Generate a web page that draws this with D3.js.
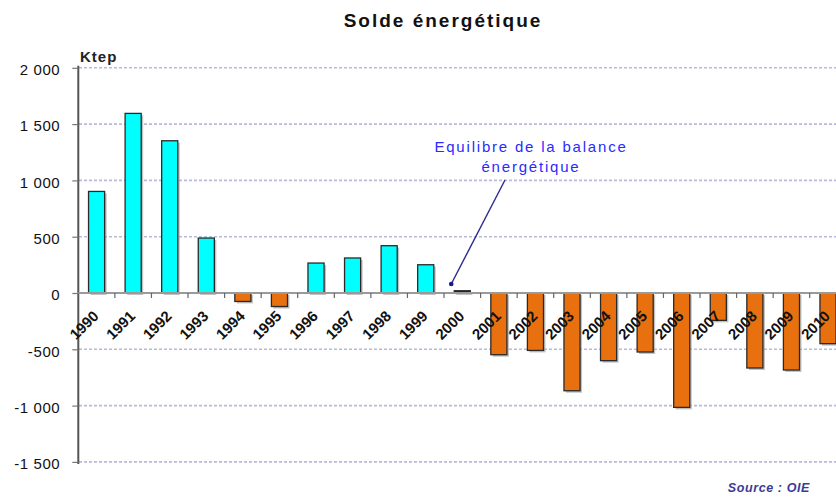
<!DOCTYPE html>
<html><head><meta charset="utf-8">
<script src="https://cdn.jsdelivr.net/npm/d3@7"></script>
<style>
html,body{margin:0;padding:0;background:#fff;overflow:hidden}
svg{display:block}
</style></head>
<body>
<svg id="chart" width="836" height="498"></svg>
<script>
const years = ["1990","1991","1992","1993","1994","1995","1996","1997","1998","1999","2000","2001","2002","2003","2004","2005","2006","2007","2008","2009","2010"];
const solde = [902, 1595, 1352, 488, -75, -120, 266, 311, 420, 251, 20, -548, -510, -868, -601, -524, -1016, -243, -666, -684, -450];
const yTicks = [-1500, -1000, -500, 0, 500, 1000, 1500, 2000];
const titleText = "Solde énergétique";
const unitText = "Ktep";
const noteLines = ["Equilibre de la balance", "énergétique"];
const noteYear = "2000";
const sourceText = "Source : OIE";

const FONT = "Arial, 'Liberation Sans', sans-serif";
const svg = d3.select("#chart");
const x = d3.scaleBand().domain(years).range([78.3, 846.3]).paddingInner(0.56).paddingOuter(0.28);
const y = d3.scaleLinear().domain([-1500, 2000]).range([461.9, 67.8]);
const loc = d3.formatLocale({decimal: ",", thousands: " ", grouping: [3], currency: ["", ""], minus: "-"});
const fmt = loc.format(",d");

// gridlines
svg.append("g").selectAll("line").data(yTicks.filter(d => d !== 0)).join("line")
  .attr("x1", 79).attr("x2", 836).attr("y1", d => y(d)).attr("y2", d => y(d))
  .attr("stroke", "#b9b9d9").attr("stroke-width", 1.6).attr("stroke-dasharray", "3,2");

// y axis
const yAxis = d3.axisLeft(y).tickValues(yTicks).tickFormat(fmt).tickSize(6).tickPadding(12);
const gy = svg.append("g").attr("transform", "translate(78.3,0)").call(yAxis);
gy.select(".domain").attr("stroke", "#555").attr("stroke-width", 2).attr("d", `M0,${y(2000)-2}V${y(-1500)+2}`);
gy.selectAll(".tick line").attr("stroke", "#777").attr("stroke-width", 1.2);
gy.selectAll(".tick text").attr("font-family", FONT).attr("font-size", 15).attr("fill", "#111")
  .attr("letter-spacing", "0.6px").attr("dy", "0.45em");

// bars: shadow then bar
const barColor = (d, i) => years[i] === noteYear ? "#222" : (d >= 0 ? "#00ffff" : "#e8700e");
const gb = svg.append("g");
gb.selectAll("rect.sh").data(solde).join("rect").attr("class", "sh")
  .attr("x", (d, i) => x(years[i]) + 2)
  .attr("y", d => Math.min(y(d), y(0)) + 2)
  .attr("width", x.bandwidth())
  .attr("height", d => Math.abs(y(d) - y(0)))
  .attr("fill", "#9a9a9a").attr("opacity", 0.6);
gb.selectAll("rect.bar").data(solde).join("rect").attr("class", "bar")
  .attr("x", (d, i) => x(years[i]))
  .attr("y", d => Math.min(y(d), y(0)))
  .attr("width", x.bandwidth())
  .attr("height", d => Math.abs(y(d) - y(0)))
  .attr("fill", barColor)
  .attr("stroke", "#2a2a2a").attr("stroke-width", 1.3);

// zero line
svg.append("line").attr("x1", 78.3).attr("x2", 836).attr("y1", y(0)).attr("y2", y(0))
  .attr("stroke", "#9a9a9a").attr("stroke-width", 2.2);

// x ticks at band boundaries
const bounds = years.map(yr => x(yr) - x.step() * 0.28);
svg.append("g").selectAll("line").data(bounds.slice(1)).join("line")
  .attr("x1", d => d).attr("x2", d => d).attr("y1", y(0)).attr("y2", y(0) + 5)
  .attr("stroke", "#666").attr("stroke-width", 1.2);

// x labels rotated
svg.append("g").selectAll("text").data(years).join("text")
  .attr("transform", d => `translate(${x(d) + x.bandwidth() / 2 + 3},${y(0) + 24}) rotate(-45)`)
  .attr("text-anchor", "end")
  .attr("font-family", FONT).attr("font-weight", "bold")
  .attr("font-size", 15).attr("fill", "#111")
  .text(d => d);

// title
svg.append("text").attr("x", 443).attr("y", 27).attr("text-anchor", "middle")
  .attr("font-family", FONT).attr("font-weight", "bold")
  .attr("font-size", 19).attr("letter-spacing", "2px").attr("fill", "#111").text(titleText);

// unit
svg.append("text").attr("x", 80).attr("y", 62)
  .attr("font-family", FONT).attr("font-weight", "bold")
  .attr("font-size", 15).attr("letter-spacing", "1px").attr("fill", "#222").text(unitText);

// annotation
const nx = x(noteYear);
svg.append("text").attr("text-anchor", "middle")
  .attr("font-family", FONT).attr("font-size", 15).attr("letter-spacing", "1.8px").attr("fill", "#2a2aff")
  .selectAll("tspan").data(noteLines).join("tspan")
  .attr("x", 531).attr("y", (d, i) => 152 + i * 19.5).text(d => d);
svg.append("line").attr("x1", 505).attr("y1", 180).attr("x2", nx - 3).attr("y2", y(0) - 9)
  .attr("stroke", "#2b2b90").attr("stroke-width", 1.4);
svg.append("circle").attr("cx", nx - 3).attr("cy", y(0) - 9).attr("r", 2.3).attr("fill", "#1a1a80");

// source
svg.append("text").attr("x", 810).attr("y", 492).attr("text-anchor", "end")
  .attr("font-family", FONT).attr("font-size", 12.5).attr("letter-spacing", "0.6px")
  .attr("font-style", "italic").attr("font-weight", "bold")
  .attr("fill", "#3a3a9a").text(sourceText);
</script>
</body></html>
